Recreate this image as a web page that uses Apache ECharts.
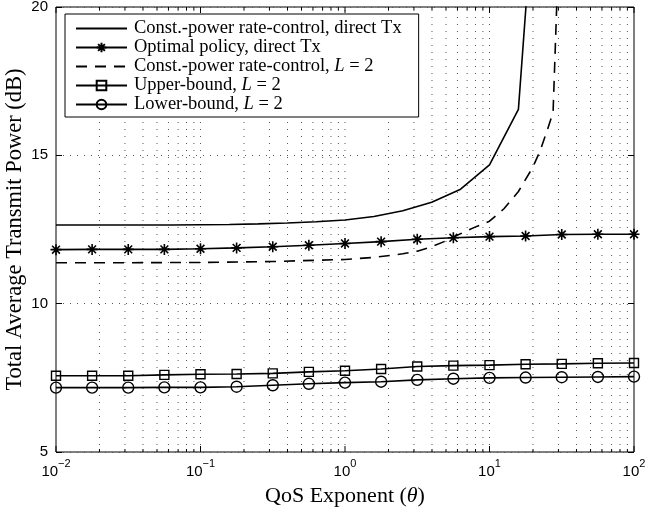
<!DOCTYPE html>
<html><head><meta charset="utf-8">
<script src="https://cdn.jsdelivr.net/npm/echarts@6/dist/echarts.min.js"></script>
<style>html,body{margin:0;padding:0;background:#fff}#c{width:648px;height:512px}</style>
</head><body><div id="c"></div>
<script>
// ---- tick labels / grid ----
const xTickExponents = [-2, -1, 0, 1, 2];
const xMajorValues = [0.01, 0.1, 1, 10, 100];
const xGridValues = [0.01,0.02,0.03,0.04,0.05,0.06,0.07,0.08,0.09,
  0.1,0.2,0.3,0.4,0.5,0.6,0.7,0.8,0.9,
  1,2,3,4,5,6,7,8,9,
  10,20,30,40,50,60,70,80,90,100];
const yTicks = [5, 10, 15, 20];

// ---- series names ----
const seriesNames = [
  'Const.-power rate-control, direct Tx',
  'Optimal policy, direct Tx',
  'Const.-power rate-control, L = 2',
  'Upper-bound, L = 2',
  'Lower-bound, L = 2'
];

// ---- marker series (QoS exponent samples) ----
const markerTheta = [0.01,0.01778,0.03162,0.05623,0.1,0.1778,0.3162,0.5623,1,1.778,3.162,5.623,10,17.78,31.62,56.23,100];
const optimalPower = [11.82,11.83,11.83,11.83,11.85,11.88,11.92,11.97,12.03,12.09,12.17,12.22,12.26,12.28,12.33,12.34,12.34];
const upperPower   = [7.57,7.57,7.57,7.60,7.62,7.63,7.65,7.70,7.74,7.80,7.88,7.91,7.93,7.96,7.97,7.99,8.00];
const lowerPower   = [7.17,7.17,7.17,7.18,7.18,7.20,7.25,7.30,7.34,7.37,7.43,7.47,7.50,7.51,7.52,7.53,7.54];

// ---- const-power, direct Tx ----
const constTheta = [0.01,0.01585,0.02512,0.03981,0.0631,0.1,0.1585,0.2512,0.3981,0.631,1,1.585,2.512,3.981,6.31,10,15.85,25.12];
const constPower = [12.65,12.65,12.65,12.65,12.65,12.66,12.67,12.69,12.72,12.76,12.82,12.94,13.13,13.42,13.86,14.68,16.55,29.8];

// ---- const-power, L = 2 ----
const dashTheta = [0.01,0.03162,0.1,0.3162,1,1.585,2.512,3.162,3.981,5.012,6.31,7.943,10,12.59,15.85,19.95,22.39,25.12,27.54,31.62];
const dashPower = [11.38,11.38,11.39,11.42,11.49,11.56,11.68,11.77,11.92,12.12,12.36,12.58,12.78,13.2,13.78,14.6,15.15,15.85,16.45,25];

function pairs(xs, ys) { return xs.map((x, i) => [x, ys[i]]); }

const asterisk = 'path://M5,0L5,10M0,5L10,5M1.46,1.46L8.54,8.54M1.46,8.54L8.54,1.46';
const serif = 'Liberation Serif';
const sans = 'Liberation Sans';

const chart = echarts.init(document.getElementById('c'), null, {renderer: 'canvas'});
const lineBase = { type: 'line', animation: false, z: 3, clip: true, emphasis: {disabled: true} };
const hiddenItem = { color: 'rgba(0,0,0,0)', borderColor: 'rgba(0,0,0,0)', borderWidth: 0 };

chart.setOption({
  animation: false,
  backgroundColor: '#fff',
  grid: { left: 56, right: 14, top: 7, bottom: 60, containLabel: false, outerBoundsMode: 'none',
          show: true, borderColor: '#000', borderWidth: 1, backgroundColor: 'transparent' },
  legend: {
    data: [
      { name: seriesNames[0], itemStyle: hiddenItem },
      { name: seriesNames[1] },
      { name: seriesNames[2], itemStyle: hiddenItem },
      { name: seriesNames[3] },
      { name: seriesNames[4] }
    ],
    orient: 'vertical', left: 65, top: 14,
    itemWidth: 51, itemHeight: 12, itemGap: 0,
    padding: [5, 17, 3, 10],
    backgroundColor: '#fff', borderColor: '#000', borderWidth: 1,
    textStyle: { fontFamily: serif, fontSize: 18.5, lineHeight: 17, color: '#000', padding: [0,0,0,2],
      rich: { i: { fontFamily: serif, fontSize: 18.5, lineHeight: 17, fontStyle: 'italic', color: '#000' } } },
    formatter: name => name.replace('L = 2', '{i|L} = 2'),
    selectedMode: false
  },
  xAxis: [{
    type: 'log', logBase: 10, min: 0.01, max: 100,
    axisLine: {show: false}, axisTick: {show: false}, splitLine: {show: false},
    axisLabel: {
      margin: 6, color: '#000',
      formatter: v => {
        const e = xTickExponents[xMajorValues.findIndex(m => Math.abs(m - v) / m < 1e-6)];
        return '{b|10}{s|' + String(e).replace('-', '\u2212') + '}';
      },
      rich: {
        b: { fontFamily: sans, fontSize: 15, color: '#000', lineHeight: 21, verticalAlign: 'bottom' },
        s: { fontFamily: sans, fontSize: 11, color: '#000', lineHeight: 11, verticalAlign: 'top' }
      }
    },
    name: '{t|QoS Exponent (}{i|\u03B8}{t|)}', nameLocation: 'middle', nameGap: 33, nameMoveOverlap: false,
    nameTextStyle: { fontFamily: serif, fontSize: 22, color: '#000',
      rich: { t: { fontFamily: serif, fontSize: 22, color: '#000' },
              i: { fontFamily: serif, fontSize: 22, fontStyle: 'italic', color: '#000' } } }
  }],
  yAxis: [{
    type: 'value', min: 5, max: 20, interval: 5,
    axisLine: {show: false},
    axisTick: {show: true, inside: true, length: 6, lineStyle: {color: '#000', width: 1}},
    axisLabel: { fontFamily: sans, fontSize: 15, color: '#000', margin: 8 },
    splitLine: { show: true, lineStyle: { color: '#555', width: 1, type: [1, 6] } },
    name: 'Total Average Transmit Power (dB)', nameLocation: 'middle', nameGap: 29, nameMoveOverlap: false,
    nameTextStyle: { fontFamily: serif, fontSize: 22.5, color: '#000' }
  }, {
    type: 'value', min: 5, max: 20, interval: 5, position: 'right',
    axisLine: {show: false},
    axisTick: {show: true, inside: true, length: 6, lineStyle: {color: '#000', width: 1}},
    axisLabel: {show: false}, splitLine: {show: false}
  }],
  series: [
    {
      type: 'custom', z: 1, silent: true, animation: false, clip: false,
      data: xGridValues.map(v => [v, 5]), encode: {x: 0, y: 1},
      renderItem: (params, api) => {
        const v = api.value(0);
        const b = api.coord([v, 5]);
        const t = api.coord([v, 20]);
        const major = xMajorValues.some(m => Math.abs(m - v) / m < 1e-6);
        const len = major ? 6 : 3;
        const ch = [];
        if (v > 0.0100001 && v < 99.999) {
          ch.push({ type: 'line', shape: {x1: b[0], y1: b[1], x2: t[0], y2: t[1]},
            style: { stroke: '#555', lineWidth: 1, lineDash: [1, 6] } });
        }
        ch.push({ type: 'line', shape: {x1: b[0], y1: b[1], x2: b[0], y2: b[1] - len}, style: {stroke: '#000', lineWidth: 1} });
        ch.push({ type: 'line', shape: {x1: t[0], y1: t[1], x2: t[0], y2: t[1] + len}, style: {stroke: '#000', lineWidth: 1} });
        return { type: 'group', children: ch };
      }
    },
    Object.assign({}, lineBase, {
      name: seriesNames[0], data: pairs(constTheta, constPower),
      symbol: 'none', showSymbol: false,
      lineStyle: { color: '#000', width: 1.6 }, itemStyle: { color: '#000' }
    }),
    Object.assign({}, lineBase, {
      name: seriesNames[1], data: pairs(markerTheta, optimalPower),
      symbol: asterisk, symbolSize: 11, showSymbol: true,
      lineStyle: { color: '#000', width: 1.6 },
      itemStyle: { color: '#000', borderColor: '#000', borderWidth: 1.6 }
    }),
    Object.assign({}, lineBase, {
      name: seriesNames[2], data: pairs(dashTheta, dashPower),
      symbol: 'none', showSymbol: false,
      lineStyle: { color: '#000', width: 1.6, type: [11, 8] }, itemStyle: { color: '#000' }
    }),
    Object.assign({}, lineBase, {
      name: seriesNames[3], data: pairs(markerTheta, upperPower),
      symbol: 'rect', symbolSize: 9, showSymbol: true,
      lineStyle: { color: '#000', width: 1.6 },
      itemStyle: { color: 'rgba(0,0,0,0)', borderColor: '#000', borderWidth: 1.4 }
    }),
    Object.assign({}, lineBase, {
      name: seriesNames[4], data: pairs(markerTheta, lowerPower),
      symbol: 'circle', symbolSize: 11, showSymbol: true,
      lineStyle: { color: '#000', width: 1.6 },
      itemStyle: { color: 'rgba(0,0,0,0)', borderColor: '#000', borderWidth: 1.4 }
    })
  ]
});
</script>
</body></html>
